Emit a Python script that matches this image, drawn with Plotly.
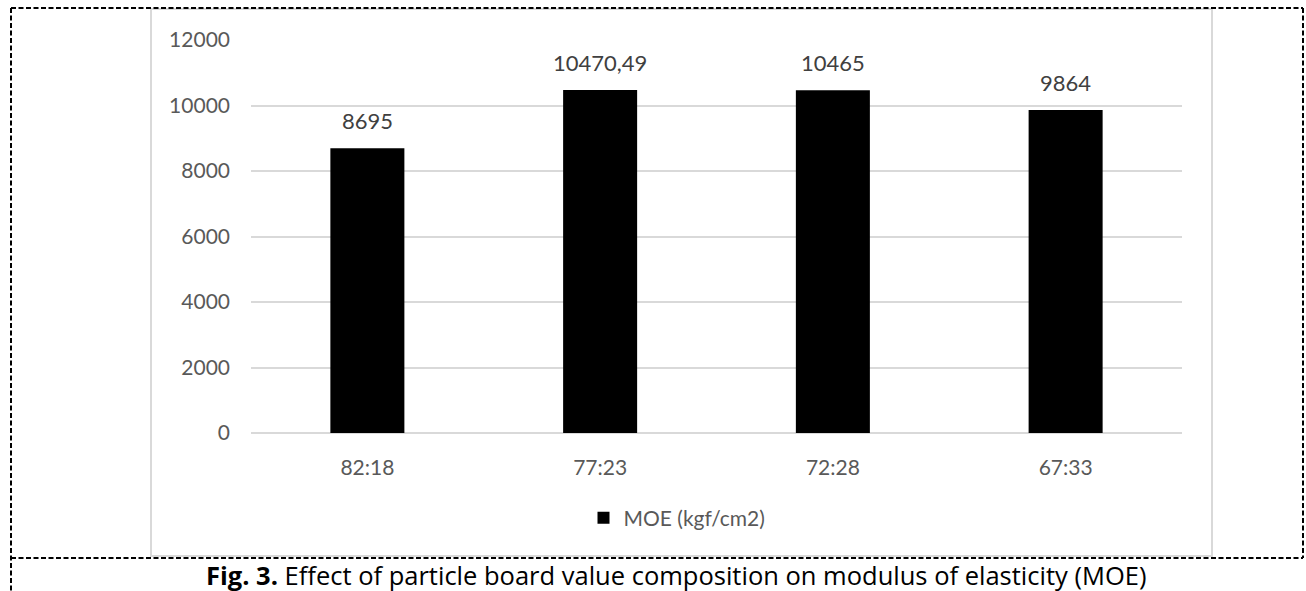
import plotly.graph_objects as go

categories = ["82:18", "77:23", "72:28", "67:33"]
moe_values = [8695, 10470.49, 10465, 9864]
value_labels = ["8695", "10470,49", "10465", "9864"]
series_name = "MOE (kgf/cm2)"
caption_bold = "Fig. 3."
caption_text = "Effect of particle board value composition on modulus of elasticity (MOE)"

W, H = 1306, 591
L, R, T, B = 251, 1182, 40, 433  # plot area in pixels

def px(x):
    return (x - L) / (R - L)

def py(y):
    return (B - y) / (B - T)

FONT = "Lato"
GRAY = "#595959"

fig = go.Figure()
fig.add_trace(go.Bar(
    x=categories, y=moe_values, name=series_name,
    marker=dict(color="black", line=dict(width=0)),
    showlegend=True,
))

# data labels
for c, v, t in zip(categories, moe_values, value_labels):
    fig.add_annotation(x=c, y=v, text=t, showarrow=False, yanchor="bottom",
                       yshift=12, font=dict(family=FONT, size=22, color="#404040"))

shapes = []
# chart area border
shapes.append(dict(type="rect", xref="paper", yref="paper",
                   x0=px(151), x1=px(1212), y0=py(556), y1=py(9),
                   line=dict(color="#d9d9d9", width=2), layer="below"))
dash = dict(color="black", width=2, dash="5px,2.5px")
shapes.append(dict(type="line", xref="paper", yref="paper", x0=px(11), x1=px(1303), y0=py(8), y1=py(8), line=dash))
shapes.append(dict(type="line", xref="paper", yref="paper", x0=px(11), x1=px(1303), y0=py(558), y1=py(558), line=dash))
shapes.append(dict(type="line", xref="paper", yref="paper", x0=px(11), x1=px(11), y0=py(8), y1=py(591), line=dash))
shapes.append(dict(type="line", xref="paper", yref="paper", x0=px(1303), x1=px(1303), y0=py(8), y1=py(558), line=dash))

fig.add_annotation(xref="paper", yref="paper", x=px(676), y=py(575),
                   xanchor="center", yanchor="middle", showarrow=False,
                   text=f"<b>{caption_bold}</b> {caption_text}",
                   font=dict(family="Open Sans", size=25.5, color="black"))

fig.update_layout(
    width=W, height=H,
    margin=dict(l=L, r=W - R, t=T, b=H - B, pad=0),
    paper_bgcolor="white", plot_bgcolor="white",
    bargap=0.682,
    shapes=shapes,
    font=dict(family=FONT, size=21, color=GRAY),
    legend=dict(orientation="h", x=px(677), y=py(518), xanchor="center", yanchor="middle",
                font=dict(family=FONT, size=21, color=GRAY), bgcolor="rgba(0,0,0,0)",
                itemwidth=30),
    showlegend=True,
)
fig.update_yaxes(range=[0, 12000], dtick=2000, tickformat="d", showgrid=True,
                 gridcolor="#d9d9d9", gridwidth=1.5, zeroline=True, zerolinecolor="#d9d9d9",
                 zerolinewidth=1.5, showline=False, ticks="", ticklabelstandoff=20,
                 tickfont=dict(family=FONT, size=21, color=GRAY), fixedrange=True)
fig.update_xaxes(showgrid=False, showline=False, ticks="", ticklabelstandoff=20,
                 tickfont=dict(family=FONT, size=21, color=GRAY), fixedrange=True)

fig.write_html("out.html", config={"displayModeBar": False},
               post_script="document.body.style.margin='0px';document.body.style.overflow='hidden';")
